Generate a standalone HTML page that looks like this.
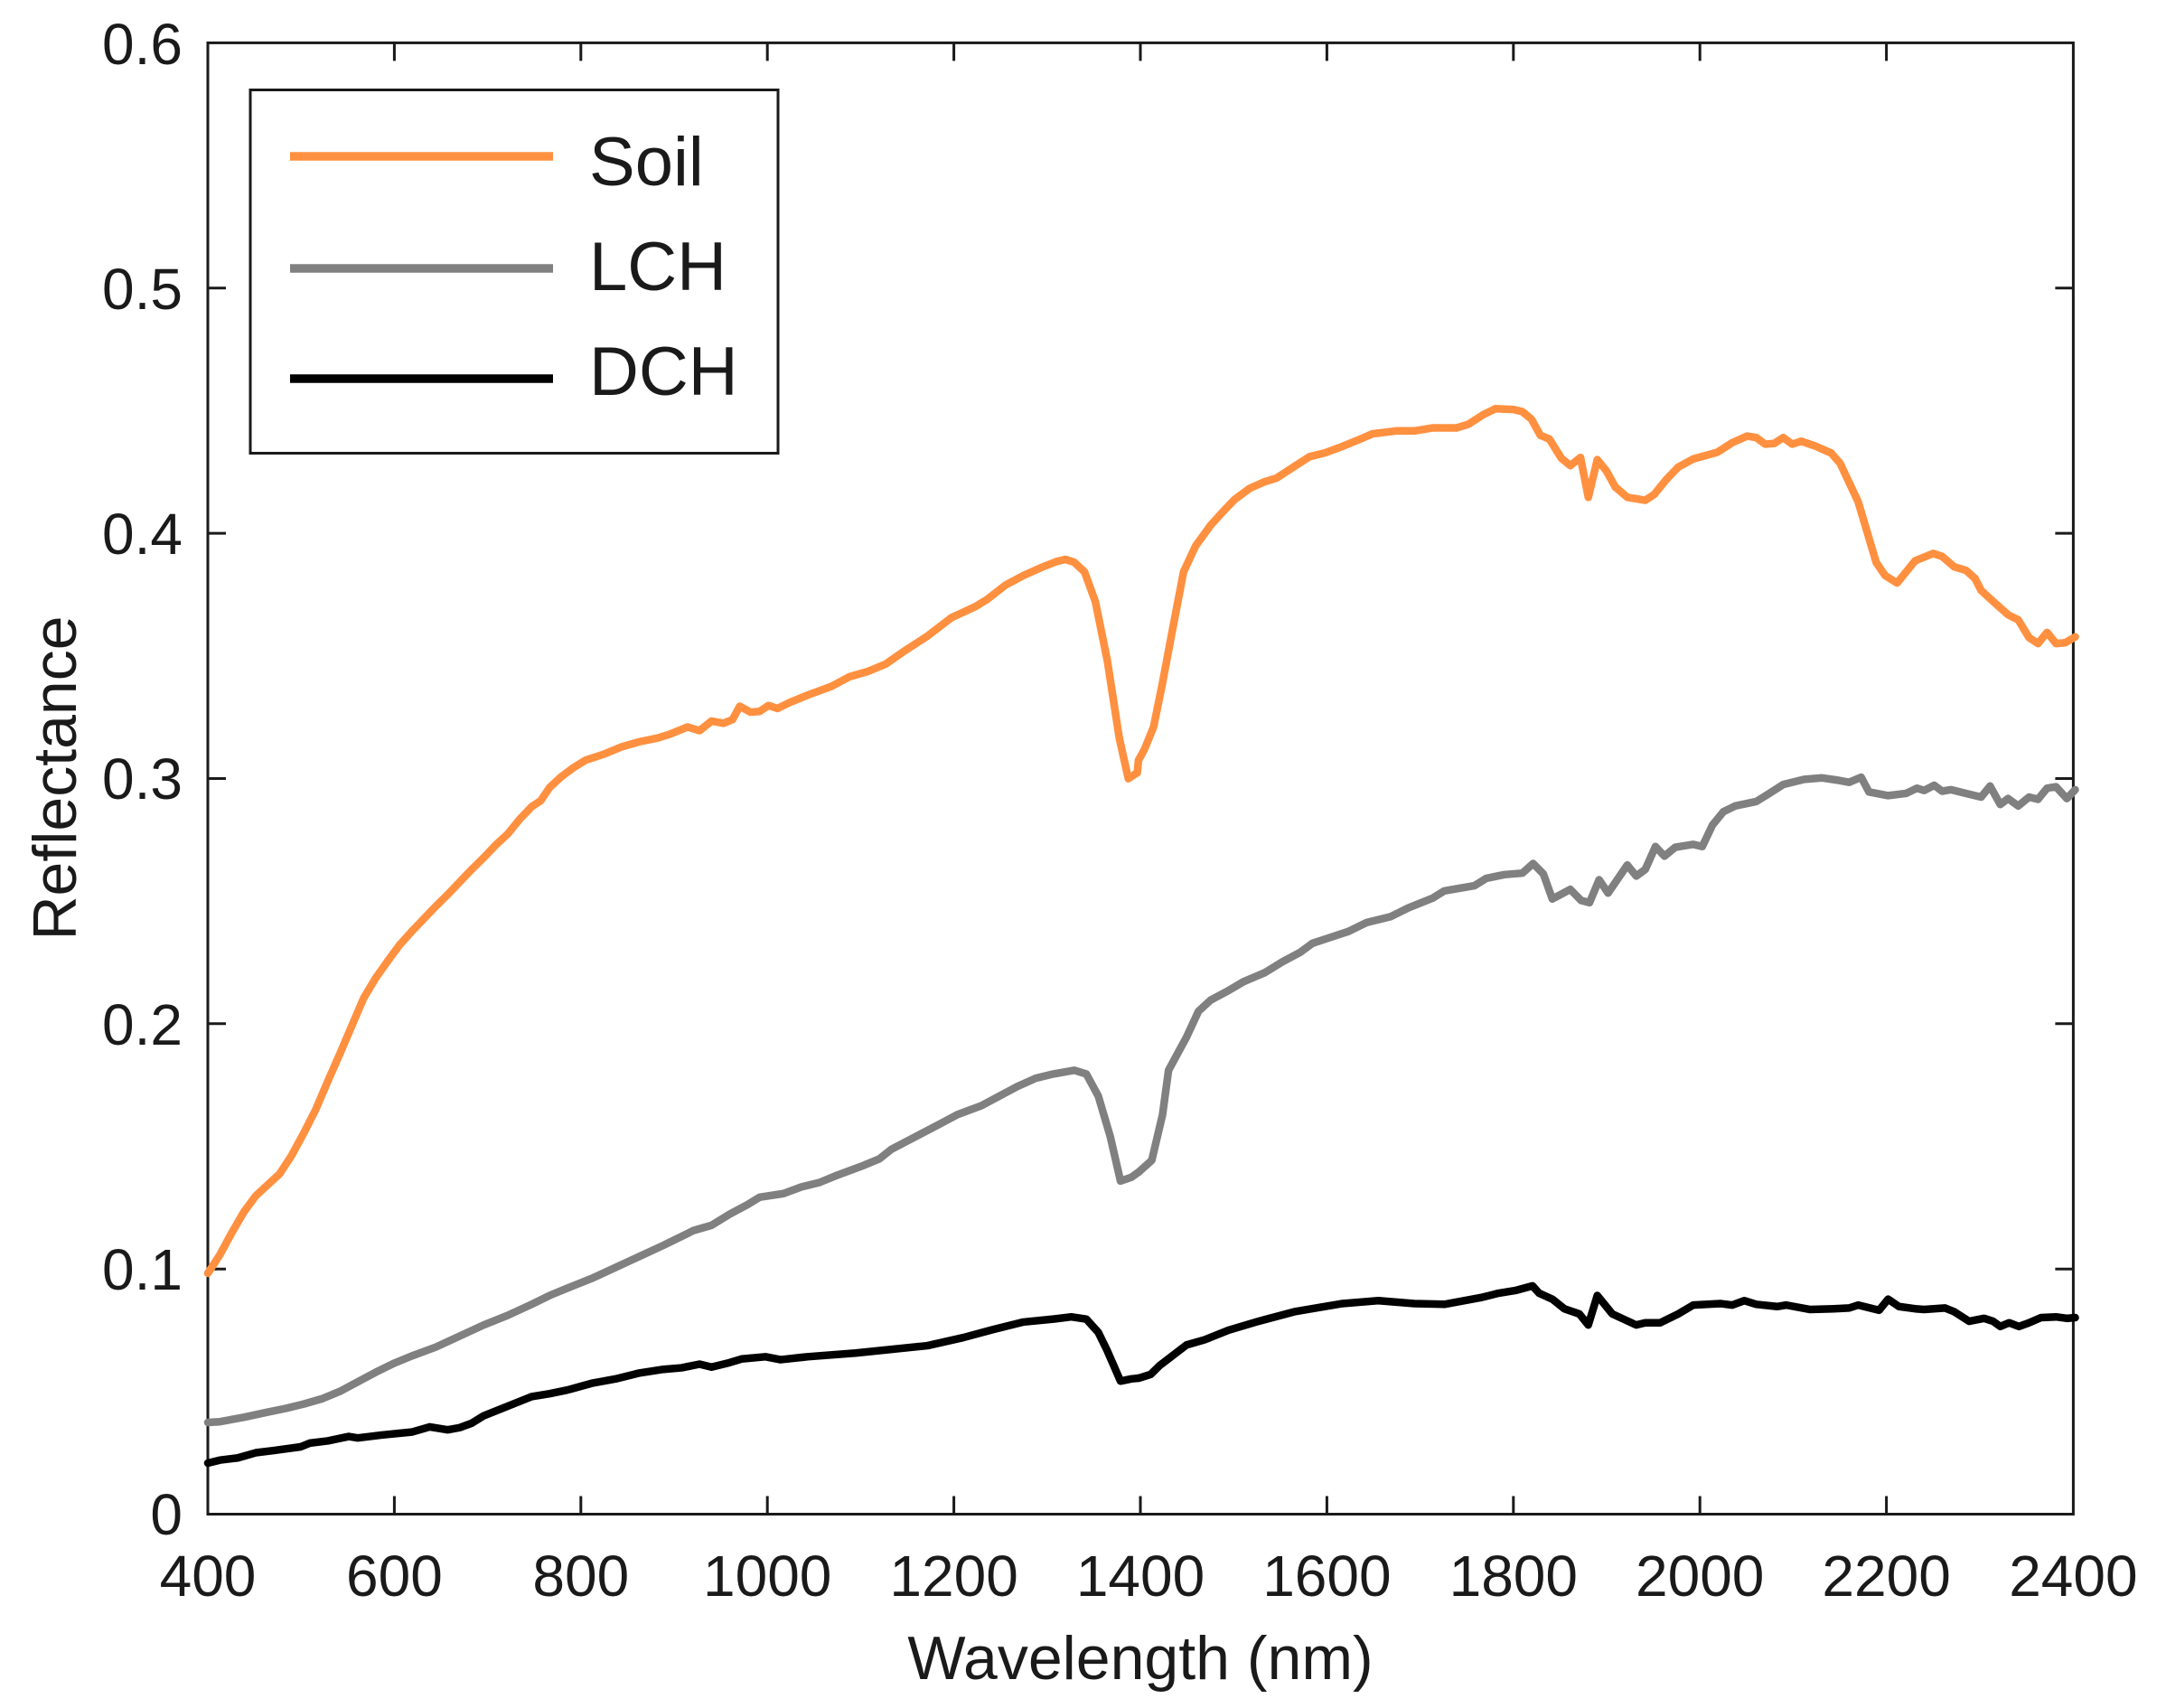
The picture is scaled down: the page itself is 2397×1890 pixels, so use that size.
<!DOCTYPE html>
<html><head><meta charset="utf-8"><style>
html,body{margin:0;padding:0;background:#fff;}
svg{display:block;}
text{font-family:"Liberation Sans",Arial,sans-serif;fill:#1a1a1a;}
</style></head><body>
<svg width="2397" height="1890" viewBox="0 0 2397 1890" xmlns="http://www.w3.org/2000/svg">
<rect width="2397" height="1890" fill="#fff"/>
<rect x="230" y="47.4" width="2064.4" height="1628.1" fill="none" stroke="#1a1a1a" stroke-width="3"/>
<g stroke="#1a1a1a" stroke-width="3">
<path d="M436.4 1675.5v-20M642.8 1675.5v-20M849.2 1675.5v-20M1055.6 1675.5v-20M1262 1675.5v-20M1468.4 1675.5v-20M1674.8 1675.5v-20M1881.2 1675.5v-20M2087.6 1675.5v-20"/>
<path d="M436.4 47.4v20M642.8 47.4v20M849.2 47.4v20M1055.6 47.4v20M1262 47.4v20M1468.4 47.4v20M1674.8 47.4v20M1881.2 47.4v20M2087.6 47.4v20"/>
<path d="M230 1404.2h20M230 1132.8h20M230 861.5h20M230 590.1h20M230 318.8h20"/>
<path d="M2294.4 1404.2h-20M2294.4 1132.8h-20M2294.4 861.5h-20M2294.4 590.1h-20M2294.4 318.8h-20"/>
</g>
<g font-size="64" text-anchor="end">
<text x="202" y="1698">0</text>
<text x="202" y="1427">0.1</text>
<text x="202" y="1156">0.2</text>
<text x="202" y="884">0.3</text>
<text x="202" y="613">0.4</text>
<text x="202" y="342">0.5</text>
<text x="202" y="71">0.6</text>
</g>
<g font-size="64" text-anchor="middle">
<text x="230" y="1766">400</text>
<text x="436.4" y="1766">600</text>
<text x="642.8" y="1766">800</text>
<text x="849.2" y="1766">1000</text>
<text x="1055.6" y="1766">1200</text>
<text x="1262" y="1766">1400</text>
<text x="1468.4" y="1766">1600</text>
<text x="1674.8" y="1766">1800</text>
<text x="1881.2" y="1766">2000</text>
<text x="2087.6" y="1766">2200</text>
<text x="2294.4" y="1766">2400</text>
</g>
<text x="1262" y="1858" font-size="68" text-anchor="middle">Wavelength (nm)</text>
<text transform="translate(84,861) rotate(-90)" font-size="68" text-anchor="middle">Reflectance</text>

<g fill="none" stroke-linejoin="round" stroke-linecap="round">
<g transform="translate(230,400) scale(0.6636,0.8170)">
<polyline vector-effect="non-scaling-stroke" stroke="#FF9040" stroke-width="8.5" points="0,1235 20,1210 40,1180 60,1152 80,1130 100,1115 120,1100 140,1075 160,1045 180,1013 200,975 220,938 240,900 260,862 280,835 300,812 320,790 340,772 360,755 380,738 400,722 420,705 440,688 460,672 480,655 500,640 520,620 540,603 555,595 570,577 590,562 610,550 630,540 660,532 690,522 720,515 750,510 770,505 800,495 820,500 840,487 860,490 875,485 887,467 905,475 920,474 935,466 950,470 970,462 1000,452 1040,440 1070,427 1100,420 1130,410 1160,393 1200,372 1240,347 1280,332 1300,322 1330,303 1360,290 1390,279 1415,271 1430,268 1445,272 1462,285 1480,325 1500,405 1520,510 1535,565 1550,557 1552,540"/>
<polyline vector-effect="non-scaling-stroke" stroke="#808080" stroke-width="8.5" points="0,1437 20,1436 60,1430 100,1423 130,1418 160,1412 190,1405 220,1395 250,1382 280,1369 310,1357 340,1347 380,1335 420,1320 460,1305 500,1292 540,1277 570,1265 600,1255 640,1242 680,1227 720,1212 760,1197 790,1185 810,1177 840,1170 870,1155 900,1142 920,1132 960,1127 990,1118 1020,1112 1050,1102 1090,1090 1120,1080 1140,1067 1180,1050 1220,1033 1250,1020 1290,1008 1320,995 1350,982 1380,971 1410,965 1445,960 1465,965 1485,995 1505,1050 1522,1110 1540,1105 1552,1098"/>
<polyline vector-effect="non-scaling-stroke" stroke="#000" stroke-width="8.5" points="0,1492 20,1488 50,1485 80,1478 110,1475 155,1470 170,1465 200,1462 235,1456 250,1458 290,1454 340,1450 370,1443 400,1447 420,1444 440,1438 460,1428 500,1415 540,1402 570,1398 600,1393 640,1384 680,1378 720,1370 760,1365 790,1363 820,1358 840,1362 870,1356 890,1351 930,1348 955,1352 1000,1348 1080,1343 1200,1333 1260,1322 1310,1311 1360,1301 1410,1297 1440,1294 1465,1297 1485,1315 1500,1340 1522,1381 1540,1378 1552,1377"/>
</g>
<g transform="translate(1260,400) scale(0.6636,0.8170)">
<polyline vector-effect="non-scaling-stroke" stroke="#FF9040" stroke-width="8.5" points="0,540 10,525 25,495 40,435 55,370 75,285 95,250 120,222 140,204 160,187 185,172 210,163 230,158 260,142 285,129 310,124 340,115 370,105 390,98 430,94 460,94 490,90 530,90 550,85 575,72 595,64 625,65 640,68 655,78 670,100 685,105 705,131 720,141 737,130 750,184 765,133 780,148 795,170 815,184 845,188 860,180 880,160 900,143 925,132 965,123 990,110 1015,101 1030,103 1045,112 1060,111 1075,103 1090,112 1105,108 1130,115 1155,124 1170,138 1200,190 1230,272 1245,290 1265,300 1295,270 1325,260 1340,264 1360,278 1380,283 1395,294 1405,310 1425,325 1450,343 1467,350 1485,374 1500,382 1515,367 1530,382 1545,381 1562,373"/>
<polyline vector-effect="non-scaling-stroke" stroke="#808080" stroke-width="8.5" points="0,1098 22,1082 40,1020 50,960 80,915 100,880 120,865 150,852 175,840 210,828 240,813 270,800 290,788 320,780 350,772 380,760 420,752 450,740 490,727 510,717 560,710 580,700 610,695 640,693 658,680 675,694 690,728 720,715 738,730 752,733 768,702 783,720 815,682 830,697 845,688 862,657 877,670 895,658 925,654 940,657 957,628 975,610 995,602 1030,596 1050,586 1075,573 1110,566 1140,564 1165,567 1185,570 1205,563 1218,583 1250,588 1280,585 1298,578 1310,581 1327,574 1340,582 1355,580 1380,585 1405,590 1420,575 1437,600 1450,592 1467,602 1485,590 1500,593 1515,578 1530,576 1548,592 1562,580"/>
<polyline vector-effect="non-scaling-stroke" stroke="#000" stroke-width="8.5" points="0,1377 20,1372 35,1360 80,1332 110,1325 150,1312 200,1300 260,1287 340,1276 400,1272 460,1276 510,1277 570,1268 600,1262 630,1258 657,1252 668,1262 690,1270 710,1283 735,1290 750,1305 765,1265 790,1290 830,1305 845,1302 870,1302 900,1290 925,1278 970,1276 990,1278 1010,1272 1030,1277 1065,1280 1080,1278 1120,1284 1160,1283 1185,1282 1200,1278 1235,1285 1250,1270 1268,1280 1295,1283 1310,1284 1345,1282 1360,1287 1385,1300 1410,1296 1425,1300 1437,1307 1452,1302 1468,1307 1485,1302 1505,1295 1530,1294 1548,1296 1562,1295"/>
</g>
</g>

<rect x="277" y="99.5" width="584" height="402" fill="#fff" stroke="#1a1a1a" stroke-width="3"/>
<line x1="321" y1="173" x2="612" y2="173" stroke="#FF9040" stroke-width="9.5"/>
<line x1="321" y1="297" x2="612" y2="297" stroke="#808080" stroke-width="9.5"/>
<line x1="321" y1="419" x2="612" y2="419" stroke="#000" stroke-width="9.5"/>
<g font-size="76">
<text x="652" y="205">Soil</text>
<text x="652" y="321">LCH</text>
<text x="652" y="437">DCH</text>
</g>
</svg>
</body></html>
